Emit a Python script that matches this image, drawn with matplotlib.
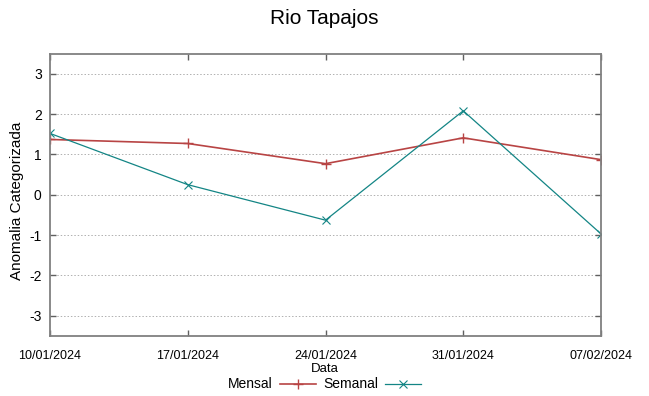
import matplotlib
matplotlib.use("Agg")
import matplotlib.pyplot as plt
import matplotlib.dates as mdates
from datetime import datetime

plt.rcParams['font.family'] = ['Liberation Sans', 'DejaVu Sans']

dates = ["2024-01-10", "2024-01-17", "2024-01-24", "2024-01-31", "2024-02-07"]
mensal = [1.37, 1.27, 0.77, 1.41, 0.87]
semanal = [1.52, 0.25, -0.63, 2.08, -0.97]
yticks = [-3, -2, -1, 0, 1, 2, 3]
title = "Rio Tapajos"
xlabel = "Data"
ylabel = "Anomalia Categorizada"

x = [datetime.strptime(d, "%Y-%m-%d") for d in dates]

fig = plt.figure(figsize=(6.49, 3.96), dpi=100)
ax = fig.add_axes([50/649, 60/396, 551/649, 282.5/396])

ax.plot(x, mensal, color='#b84444', lw=1.2, marker='+', ms=7, mew=1.0, label='Mensal')
ax.plot(x, semanal, color='#138585', lw=0.9, marker='x', ms=6, mew=0.8, label='Semanal')

ax.set_ylim(-3.5, 3.5)
ax.set_xlim(x[0], x[-1])
ax.set_yticks(yticks)
ax.set_yticklabels([str(v) for v in yticks])
ax.set_xticks(x)
ax.xaxis.set_major_formatter(mdates.DateFormatter('%d/%m/%Y'))

ax.yaxis.grid(True, color='#b0b0b0', linestyle=(0, (1.5, 2)), lw=0.7)
ax.xaxis.grid(False)
for s in ax.spines.values():
    s.set_color('#808080')
    s.set_linewidth(1.3)
ax.tick_params(axis='both', direction='in', length=4, width=1.0, color='#606060',
               top=True, right=True)
ax.tick_params(axis='y', labelsize=10, pad=6)
ax.tick_params(axis='x', labelsize=9, pad=10)

ax.set_ylabel(ylabel, fontsize=11)
ax.yaxis.set_label_coords(-0.047, 0.48)
ax.set_xlabel(xlabel, fontsize=9.5, va='center')
ax.xaxis.set_label_coords(0.499, -(369 - 336) / 282.5)

fig.suptitle(title, fontsize=15, y=1 - 19/396, va='center')

ax.legend(loc='center', bbox_to_anchor=(0.5, 1 - 384.5/396), bbox_transform=fig.transFigure,
          ncol=2, frameon=False, markerfirst=False, fontsize=10, handlelength=2.6,
          handletextpad=0.5, columnspacing=0.5, borderpad=0)

fig.savefig("out.png", dpi=100)
